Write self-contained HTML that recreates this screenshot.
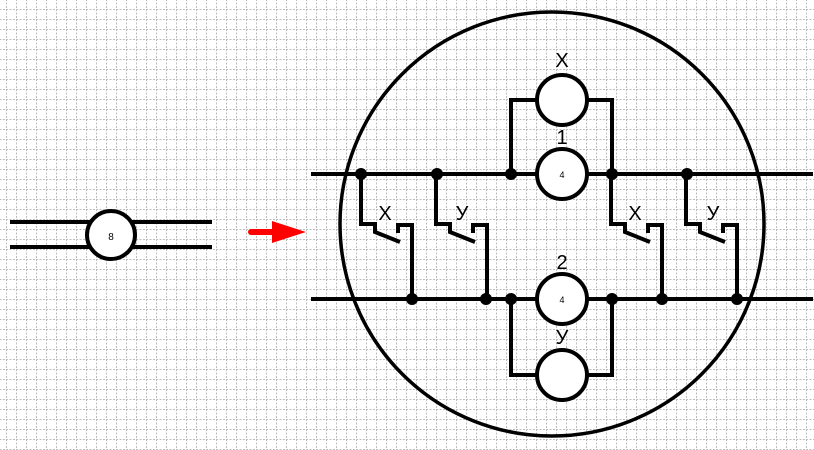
<!DOCTYPE html>
<html><head><meta charset="utf-8"><style>
html,body{margin:0;padding:0;background:#fff;}
svg{display:block}
text{font-family:"Liberation Sans","DejaVu Sans",sans-serif;fill:#000;text-anchor:middle}
</style></head><body>
<svg width="814" height="450" viewBox="0 0 814 450" xmlns="http://www.w3.org/2000/svg">
<defs>
<pattern id="g" x="6" y="9" width="10" height="10" patternUnits="userSpaceOnUse">
<path d="M0 0.5H10M0.5 0V10" stroke="#bdbdbd" stroke-width="1" stroke-dasharray="2,1.5" fill="none"/>
</pattern>
</defs>
<rect width="814" height="450" fill="#fff"/>
<rect width="814" height="450" fill="url(#g)"/>
<g stroke="#000" stroke-width="4" fill="none">
<!-- left symbol -->
<line x1="10" y1="222" x2="212" y2="222"/>
<line x1="10" y1="247" x2="212" y2="247"/>
<circle cx="111" cy="235" r="24" fill="#fff"/>
<!-- big circle -->
<circle cx="552" cy="224" r="212" stroke-width="3.5"/>
<!-- buses -->
<line x1="311" y1="174" x2="813" y2="174"/>
<line x1="311" y1="299" x2="813" y2="299"/>
<!-- brackets -->
<polyline points="511,174 511,100 612,100 612,174"/>
<polyline points="511,299 511,375 612,375 612,299"/>
<!-- motors -->
<circle cx="562" cy="100" r="25" fill="#fff"/>
<circle cx="562" cy="174" r="25" fill="#fff"/>
<circle cx="562" cy="299" r="25" fill="#fff"/>
<circle cx="562" cy="375" r="25" fill="#fff"/>
<!-- switches -->
<g id="sw">
<polyline points="361,174 361,224 375,224 375,232 400,242"/>
<polyline points="398,233 398,225 412,225 412,299"/>
</g>
<use href="#sw" transform="translate(75,0)"/>
<use href="#sw" transform="translate(250,0)"/>
<use href="#sw" transform="translate(325,0)"/>
</g>
<g fill="#000">
<circle cx="361" cy="174" r="6"/><circle cx="437" cy="174" r="6"/><circle cx="511" cy="174" r="6"/><circle cx="612" cy="174" r="6"/><circle cx="687" cy="174" r="6"/>
<circle cx="412" cy="299" r="6"/><circle cx="486" cy="299" r="6"/><circle cx="511" cy="299" r="6"/><circle cx="612" cy="299" r="6"/><circle cx="662" cy="299" r="6"/><circle cx="737" cy="299" r="6"/>
</g>
<!-- arrow -->
<line x1="251" y1="232" x2="276" y2="232" stroke="#f00" stroke-width="6" stroke-linecap="round"/>
<polygon points="272,221 306,232 272,243" fill="#f00"/>
<!-- labels -->
<text x="111" y="240" font-size="10">8</text>
<text x="562" y="178" font-size="9">4</text>
<text x="562" y="303" font-size="9">4</text>
<text x="562" y="67" font-size="20">X</text>
<text x="562" y="144" font-size="20">1</text>
<text x="562" y="269" font-size="20">2</text>
<text x="562" y="344" font-size="20">У</text>
<text x="385" y="220" font-size="20">X</text>
<text x="462" y="220" font-size="20">У</text>
<text x="635" y="220" font-size="20">X</text>
<text x="713" y="220" font-size="20">У</text>
</svg>
</body></html>
